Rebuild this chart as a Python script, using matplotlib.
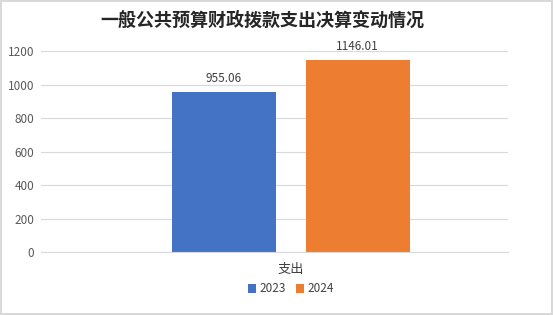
import matplotlib.pyplot as plt

plt.rcParams['font.family'] = ['Noto Sans CJK SC', 'DejaVu Sans']

categories = ['支出']
years = ['2023', '2024']
values = [955.06, 1146.01]
colors = ['#4472C4', '#ED7D31']

fig = plt.figure(figsize=(5.53, 3.15), dpi=100)
fig.patch.set_edgecolor('#D9D9D9')
fig.patch.set_linewidth(1.5)
ax = fig.add_axes([41 / 553, 1 - 252 / 315, 467 / 553, 201 / 315])

offsets = [-0.67, 0.665]
width = 1.04
for i, (yr, v) in enumerate(zip(years, values)):
    b = ax.bar(offsets[i], v, width=width, color=colors[i], label=yr, zorder=3)
    ax.bar_label(b, labels=[f'{v:.2f}'], padding=5, fontsize=8.5,
                 color='#404040', clip_on=False)

ax.set_xlim(-2.50, 2.17)
ax.set_ylim(0, 1200)
ax.set_yticks(range(0, 1201, 200))
ax.set_xticks([0])
ax.set_xticklabels(categories, fontsize=9.5, color='#404040')
ax.tick_params(axis='y', length=0, labelsize=8.5, labelcolor='#595959', pad=5)
ax.tick_params(axis='x', length=0, pad=8)
ax.grid(axis='y', color='#D9D9D9', linewidth=0.8, zorder=0)
for s in ['top', 'right', 'left']:
    ax.spines[s].set_visible(False)
ax.spines['bottom'].set_color('#D9D9D9')
ax.spines['bottom'].set_zorder(4)

fig.suptitle('一般公共预算财政拨款支出决算变动情况', fontsize=13, fontweight='bold',
             color='#262626', x=262 / 553, y=0.965)
ax.legend(loc='center', bbox_to_anchor=(291 / 553, 26 / 315),
          bbox_transform=fig.transFigure, ncol=2, frameon=False, fontsize=8.5,
          handlelength=0.7, handleheight=0.7, handletextpad=0.3, columnspacing=0.8,
          labelcolor='#404040')

fig.savefig('out.png', dpi=100)
